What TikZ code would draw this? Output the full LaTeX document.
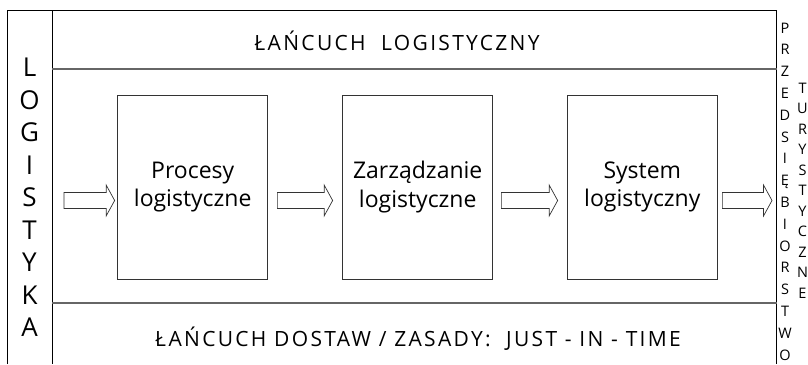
\documentclass[tikz,border=0pt]{standalone}
\usepackage{fontspec}
\setmainfont{Open Sans}
\usetikzlibrary{calc}

\begin{document}
\begin{tikzpicture}[x=1pt, y=-1pt]

	\tikzstyle{frame_line} = [draw=black, line width=0.8pt]
	\tikzstyle{band_line} = [draw=black!60, line width=1.3pt]
	\tikzstyle{stage} = [rectangle, draw=black!80, line width=0.7pt, minimum width=150pt, minimum height=184pt, align=center, font=\fontsize{23}{28.5}\selectfont]
	\tikzstyle{flow} = [draw=black!80, line width=0.7pt, fill=white, to path={let \p1=(\tikztostart), \p2=(\tikztotarget) in (\x1,\y1+8pt) -- (\x2-8.5pt,\y1+8pt) -- (\x2-8.5pt,\y1+15.5pt) -- (\x2,\y1) -- (\x2-8.5pt,\y1-15.5pt) -- (\x2-8.5pt,\y1-8pt) -- (\x1,\y1-8pt) -- cycle}]
	\tikzstyle{band_title} = [anchor=base, font=\fontsize{21}{24}\selectfont\addfontfeatures{LetterSpace=11}]
	\tikzstyle{column} = [align=center, inner sep=0pt]

	\useasboundingbox (0,0) rectangle (808,364);

%------------------------------------------------------------
	\draw[frame_line] (7,364) -- (7,10) -- (776.7,10) -- (776.7,364);
	\draw[frame_line] (52,10) -- (52,364);
	\draw[band_line] (52,69) -- (776.7,69);
	\draw[band_line] (52,303) -- (776.7,303);

%------------------------------------------------------------
	\node[band_title] (chain) at (397,50) {ŁAŃCUCH\ \ LOGISTYCZNY};
	\node[band_title] (supply) at (418,346.7) {ŁAŃCUCH DOSTAW / ZASADY:\ \ JUST - IN - TIME};

%------------------------------------------------------------
	\node[column, font=\fontsize{26}{32.5}\selectfont] (logi) at (29.5,197.5) {L\\O\\G\\I\\S\\T\\Y\\K\\A};
	\node[column, font=\fontsize{14.5}{21.8}\selectfont] (firm) at (785,191.5) {P\\R\\Z\\E\\D\\S\\I\\Ę\\B\\I\\O\\R\\S\\T\\W\\O};
	\node[column, font=\fontsize{14.5}{20.5}\selectfont] (tour) at (802.5,190.5) {T\\U\\R\\Y\\S\\T\\Y\\C\\Z\\N\\E};

%------------------------------------------------------------
	\node[stage] (p1) at (192.7,187) {Procesy\\logistyczne};
	\node[stage] (p2) at (417.7,187) {Zarządzanie\\logistyczne};
	\node[stage] (p3) at (642.3,187) {System\\logistyczny};

	\coordinate (in) at (64,200.5);
	\coordinate (out) at (772,200.5);

	\draw[flow] (in) to ([xshift=-2.7pt]p1.west |- in);
	\draw[flow] ([xshift=9.3pt]p1.east |- in) to ([xshift=-9.7pt]p2.west |- in);
	\draw[flow] ([xshift=8.3pt]p2.east |- in) to ([xshift=-9.3pt]p3.west |- in);
	\draw[flow] ([xshift=4.7pt]p3.east |- in) to (out);

\end{tikzpicture}
\end{document}
